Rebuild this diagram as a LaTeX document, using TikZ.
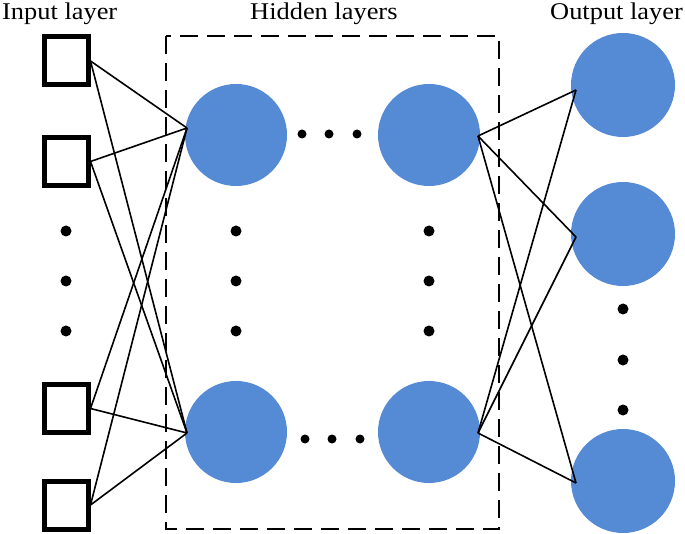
\documentclass[tikz,border=0pt]{standalone}
\usepackage{fontspec}
\newfontfamily\labelfont[FakeStretch=1.1]{Liberation Serif}
\definecolor{nodeblue}{HTML}{558AD4}
\tikzset{
  inbox/.style={draw=black, line width=5pt, minimum width=44pt, minimum height=48pt, inner sep=0pt},
  neuron/.style={circle, fill=nodeblue, minimum size=102pt, inner sep=0pt},
  outneuron/.style={circle, fill=nodeblue, minimum size=104pt, inner sep=0pt},
  conn/.style={draw=black, line width=1.6pt},
  dotmark/.style={circle, fill=black, minimum size=11pt, inner sep=0pt},
  smalldot/.style={circle, fill=black, minimum size=9pt, inner sep=0pt},
  layerlabel/.style={anchor=base west, inner sep=0pt, font=\labelfont\fontsize{24pt}{24pt}\selectfont},
  hiddenbox/.style={draw=black, line width=1.6pt, dash pattern=on 18pt off 9pt}
}
\begin{document}
\begin{tikzpicture}[x=1pt,y=-1pt]
\useasboundingbox (0,0) rectangle (685,534);
% labels
\node[layerlabel] (lin) at (2,19.5) {Input layer};
\node[layerlabel] (lhid) at (250,19.5) {Hidden layers};
\node[layerlabel] (lout) at (550,19.5) {Output layer};
% hidden box
\draw[hiddenbox] (166,36) rectangle (499,529);
% inputs
\node[inbox] (i1) at (66,61) {};
\node[inbox] (i2) at (66,161.5) {};
\node[inbox] (i3) at (66,408.5) {};
\node[inbox] (i4) at (66,505) {};
\node[dotmark] (id1) at (66,231) {};
\node[dotmark] (id2) at (66,281) {};
\node[dotmark] (id3) at (66,331) {};
% hidden
\node[neuron] (h1) at (236,135) {};
\node[neuron] (h2) at (236,432) {};
\node[neuron] (h3) at (429,135) {};
\node[neuron] (h4) at (429,432) {};
\node[dotmark] (hd1) at (236,231) {};
\node[dotmark] (hd2) at (236,281) {};
\node[dotmark] (hd3) at (236,331) {};
\node[dotmark] (hd4) at (429,231) {};
\node[dotmark] (hd5) at (429,281) {};
\node[dotmark] (hd6) at (429,331) {};
\node[smalldot] (hh1) at (302,134) {};
\node[smalldot] (hh2) at (329,134) {};
\node[smalldot] (hh3) at (357,134) {};
\node[smalldot] (hh4) at (305,439) {};
\node[smalldot] (hh5) at (332,439) {};
\node[smalldot] (hh6) at (360,439) {};
% outputs
\node[outneuron] (o1) at (623,85) {};
\node[outneuron] (o2) at (623,234) {};
\node[outneuron] (o3) at (623,481) {};
\node[dotmark] (od1) at (623,309) {};
\node[dotmark] (od2) at (623,360) {};
\node[dotmark] (od3) at (623,410) {};
% connection points
\coordinate (h1in) at (187,128);
\coordinate (h2in) at (187,433);
\coordinate (h3out) at (478,136);
\coordinate (h4out) at (478,433);
\coordinate (o1in) at (576,90);
\coordinate (o2in) at (576,237);
\coordinate (o3in) at (576,483);
% input -> hidden
\foreach \i in {i1,i2,i3,i4}{
  \draw[conn] (\i.east) -- (h1in);
  \draw[conn] (\i.east) -- (h2in);
}
% hidden -> output
\foreach \o in {o1in,o2in,o3in}{
  \draw[conn] (h3out) -- (\o);
  \draw[conn] (h4out) -- (\o);
}
\end{tikzpicture}
\end{document}
